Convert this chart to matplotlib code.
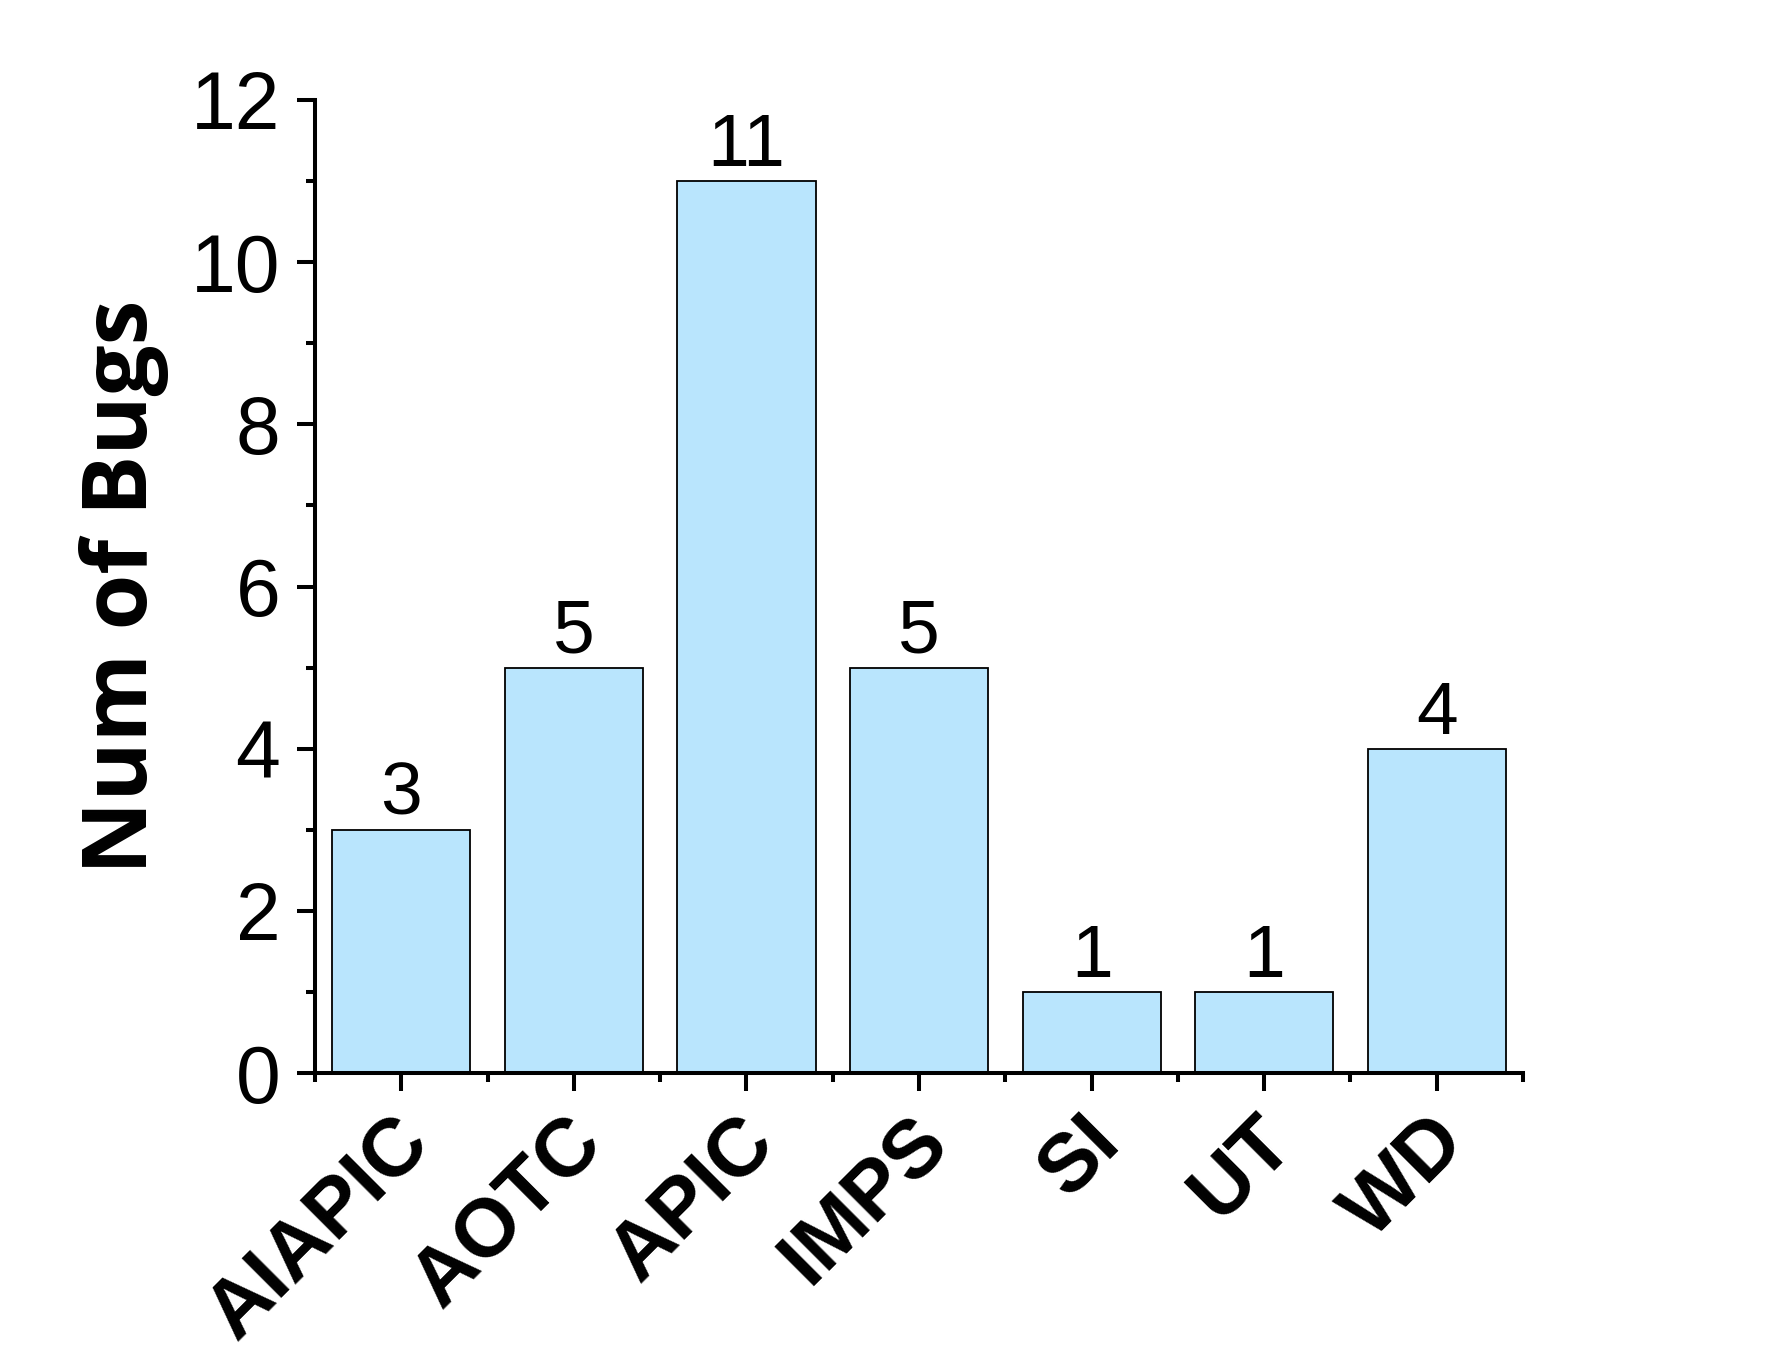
import numpy as np
import matplotlib
matplotlib.use('Agg')
import matplotlib.pyplot as plt
import matplotlib.transforms as mtransforms
from matplotlib.ticker import MultipleLocator, FixedLocator


### DATA ###

categories = ['AIAPIC', 'AOTC', 'APIC', 'IMPS', 'SI', 'UT', 'WD']
num_bugs = [3, 5, 11, 5, 1, 1, 4]

bar_color = '#B9E5FD'


### PLOT ###

plt.rcParams['font.family'] = ['Liberation Sans', 'DejaVu Sans']

fig = plt.figure(figsize=(17.71, 13.55), dpi=100)
ax = fig.add_axes([0.1779, 0.2081, 0.8600 - 0.1779, 0.9262 - 0.2081])

x = np.arange(len(categories))
bars = ax.bar(x, num_bugs, width=0.8, color=bar_color,
              edgecolor='black', linewidth=1.3, zorder=2)

# value labels
for xi, v in zip(x, num_bugs):
    ax.text(xi, v, str(v), ha='center', va='bottom', fontsize=54)

ax.set_xlim(-0.5, len(categories) - 0.5)
ax.set_ylim(0, 12)

# spines
for s in ['top', 'right']:
    ax.spines[s].set_visible(False)
for s in ['left', 'bottom']:
    ax.spines[s].set_linewidth(2.9)

# y ticks
ax.yaxis.set_major_locator(MultipleLocator(2))
ax.yaxis.set_minor_locator(MultipleLocator(1))
ax.tick_params(axis='y', which='major', direction='out', length=13,
               width=2.9, labelsize=58, pad=12)
ax.tick_params(axis='y', which='minor', direction='out', length=6.5,
               width=2.9)

# x ticks
ax.set_xticks(x)
ax.xaxis.set_minor_locator(FixedLocator(np.arange(-0.5, len(categories), 1)))
ax.tick_params(axis='x', which='major', direction='out', length=13,
               width=2.9, pad=10)
ax.tick_params(axis='x', which='minor', direction='out', length=6.5,
               width=2.9)
ax.set_xticklabels(categories, rotation=45, ha='right', va='center',
                   rotation_mode='anchor', fontsize=59, fontweight='bold')
# nudge labels right/down a bit
offset = mtransforms.ScaledTranslation(12 / 72, -18 / 72, fig.dpi_scale_trans)
for lbl in ax.get_xticklabels():
    lbl.set_transform(lbl.get_transform() + offset)

ax.set_ylabel('Num of Bugs', fontsize=65, fontweight='bold',
              family=['Open Sans', 'DejaVu Sans'], labelpad=16)

fig.savefig('out.png', dpi=100)
